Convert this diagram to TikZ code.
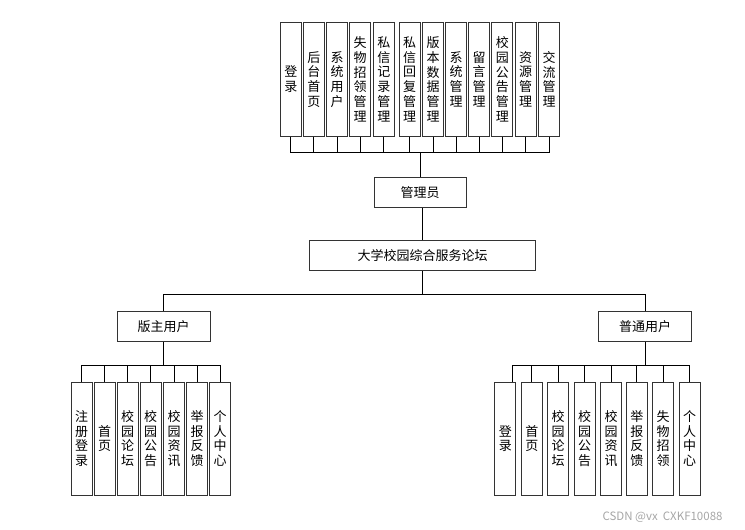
\documentclass[tikz,border=0pt]{standalone}
\usepackage{fontspec}
\setmainfont{Noto Sans CJK SC}
\usetikzlibrary{positioning}

\begin{document}
\begin{tikzpicture}[x=1pt, y=-1pt,
  vbox/.style={draw=black!80, line width=0.9pt, fill=white, minimum width=21pt, inner sep=0pt, align=center, font=\fontsize{13}{14.7}\selectfont},
  hbox/.style={draw=black!80, line width=0.9pt, fill=white, minimum height=30pt, inner sep=0pt, font=\fontsize{13}{15}\selectfont},
  ln/.style={black, line width=0.7pt}
]
\useasboundingbox (0,0) rectangle (745,530);
% admin functions
\foreach \i/\x/\t in {
 1/290.8/{登\\录}, 2/313.8/{后\\台\\首\\页}, 3/337/{系\\统\\用\\户},
 4/360/{失\\物\\招\\领\\管\\理}, 5/383.8/{私\\信\\记\\录\\管\\理},
 6/409.7/{私\\信\\回\\复\\管\\理}, 7/433/{版\\本\\数\\据\\管\\理},
 8/456.2/{系\\统\\管\\理}, 9/479/{留\\言\\管\\理},
 10/502.3/{校\\园\\公\\告\\管\\理}, 11/525.7/{资\\源\\管\\理}, 12/549/{交\\流\\管\\理}}
 \node[vbox, minimum height=114pt] (t\i) at (\x,79.2) {\t};
\node[hbox, minimum width=92pt] (admin) at (420,192.5) {管理员};
\node[hbox, minimum width=226.5pt] (main) at (422.5,255.3) {大学校园综合服务论坛};
\node[hbox, minimum width=92.7pt] (bz) at (163.7,326.5) {版主用户};
\node[hbox, minimum width=92.7pt] (pt) at (645,326.4) {普通用户};
% moderator functions
\foreach \i/\x/\t in {
 1/81.5/{注\\册\\登\\录}, 2/104.5/{首\\页}, 3/127.7/{校\\园\\论\\坛},
 4/150.7/{校\\园\\公\\告}, 5/174/{校\\园\\资\\讯}, 6/197/{举\\报\\反\\馈},
 7/220/{个\\人\\中\\心}}
 \node[vbox, minimum height=113pt] (l\i) at (\x,438.5) {\t};
% user functions
\foreach \i/\x/\t in {
 1/505.3/{登\\录}, 2/531.8/{首\\页}, 3/558/{校\\园\\论\\坛},
 4/584.7/{校\\园\\公\\告}, 5/611/{校\\园\\资\\讯}, 6/636.8/{举\\报\\反\\馈},
 7/663/{失\\物\\招\\领}, 8/689.7/{个\\人\\中\\心}}
 \node[vbox, minimum height=113pt] (r\i) at (\x,438.5) {\t};

\coordinate (tbus) at (420,152.7);
\coordinate (mbus) at (422.5,294.5);
\coordinate (lbus) at (163.7,365.5);
\coordinate (rbus) at (645,365.7);
\foreach \i in {1,...,12} \draw[ln] (t\i.south) |- (tbus);
\draw[ln] (tbus) -- (admin.north);
\draw[ln] (main.north) -- (main.north |- admin.south);
\draw[ln] (main.south) -- (mbus);
\draw[ln] (bz.north) |- (mbus);
\draw[ln] (pt.north) |- (mbus);
\draw[ln] (bz.south) -- (lbus);
\draw[ln] (pt.south) -- (rbus);
\foreach \i in {1,...,7} \draw[ln] (l\i.north) |- (lbus);
\draw[ln] ([xshift=7pt]r1.north) |- (rbus);
\foreach \i in {2,...,8} \draw[ln] (r\i.north) |- (rbus);

\node[text=black!35, font=\fontsize{11.5}{13}\selectfont, inner sep=0pt] (wm) at (662.5,517) {CSDN @vx\ \ CXKF10088};
\end{tikzpicture}
\end{document}
